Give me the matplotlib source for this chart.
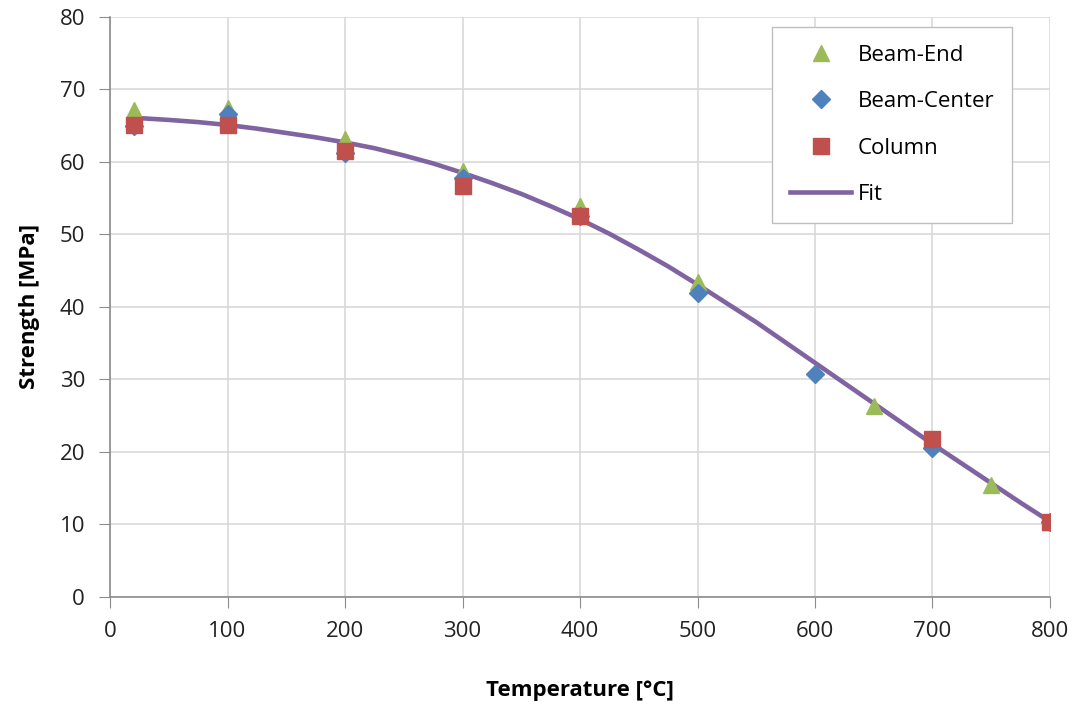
import matplotlib
matplotlib.use("Agg")
import matplotlib.pyplot as plt

# Data
beam_end_T = [20, 100, 200, 300, 400, 500, 650, 750, 800]
beam_end_S = [67.2, 67.4, 63.2, 58.7, 53.9, 43.4, 26.4, 15.5, 10.4]

beam_center_T = [20, 100, 200, 300, 400, 500, 600, 700, 800]
beam_center_S = [65.0, 66.6, 61.3, 57.8, 52.6, 41.9, 30.7, 20.6, 10.4]

column_T = [20, 100, 200, 300, 400, 700, 800]
column_S = [65.1, 65.1, 61.5, 56.7, 52.6, 21.8, 10.4]

fit_T = [20, 50, 75, 100, 125, 150, 175, 200, 225, 250, 275, 300, 325, 350, 375, 400,
         425, 450, 475, 500, 525, 550, 575, 600, 625, 650, 675, 700, 725, 750, 775, 800]
fit_S = [66.1, 65.8, 65.5, 65.1, 64.6, 64.0, 63.4, 62.7, 61.9, 60.9, 59.8, 58.5,
         57.1, 55.6, 53.9, 52.1, 50.1, 47.9, 45.6, 43.1, 40.5, 37.9, 35.1, 32.3,
         29.5, 26.7, 23.9, 21.1, 18.4, 15.7, 13.0, 10.4]

x_ticks = [0, 100, 200, 300, 400, 500, 600, 700, 800]
y_ticks = [0, 10, 20, 30, 40, 50, 60, 70, 80]

plt.rcParams['font.family'] = ['Open Sans', 'DejaVu Sans']

fig = plt.figure(figsize=(10.81, 7.04), dpi=100)
ax = fig.add_axes([0.1018, 0.152, 0.8695, 0.8239])

ax.plot(fit_T, fit_S, color='#8064A2', lw=3.3, label='Fit', zorder=2)
ax.plot(beam_end_T, beam_end_S, linestyle='none', marker='^', ms=12, color='#9BBB59', label='Beam-End', zorder=3)
ax.plot(beam_center_T, beam_center_S, linestyle='none', marker='D', ms=9.5, color='#4F81BD', label='Beam-Center', zorder=4)
ax.plot(column_T, column_S, linestyle='none', marker='s', ms=12, color='#C0504D', label='Column', zorder=5)

ax.set_xlim(0, 800)
ax.set_ylim(0, 80)
ax.set_xticks(x_ticks)
ax.set_yticks(y_ticks)
ax.tick_params(axis='both', labelsize=16, colors='#222222')
ax.tick_params(axis='y', direction='out', length=8, color='#8c8c8c', pad=10)
ax.tick_params(axis='x', direction='out', length=8, color='#8c8c8c', pad=9)
ax.grid(True, color='#d9d9d9', lw=1.2)
ax.set_axisbelow(True)
for s in ['top', 'right']:
    ax.spines[s].set_visible(False)
for s in ['left', 'bottom']:
    ax.spines[s].set_color('#8c8c8c')
    ax.spines[s].set_linewidth(1.2)

ax.set_xlabel('Temperature [°C]', fontsize=16, fontweight='bold', labelpad=28)
ax.set_ylabel('Strength [MPa]', fontsize=16, fontweight='bold', labelpad=14)

handles, labels = ax.get_legend_handles_labels()
order = [1, 2, 3, 0]
leg = ax.legend([handles[i] for i in order], [labels[i] for i in order],
                loc='upper right', bbox_to_anchor=(0.96, 0.983), fontsize=16,
                frameon=True, fancybox=False, edgecolor='#bfbfbf', framealpha=1,
                labelspacing=1.15, handlelength=2.75, handletextpad=0.3,
                borderpad=0.8, borderaxespad=0)
leg.get_frame().set_linewidth(1.0)

fig.savefig('out.png', dpi=100)
